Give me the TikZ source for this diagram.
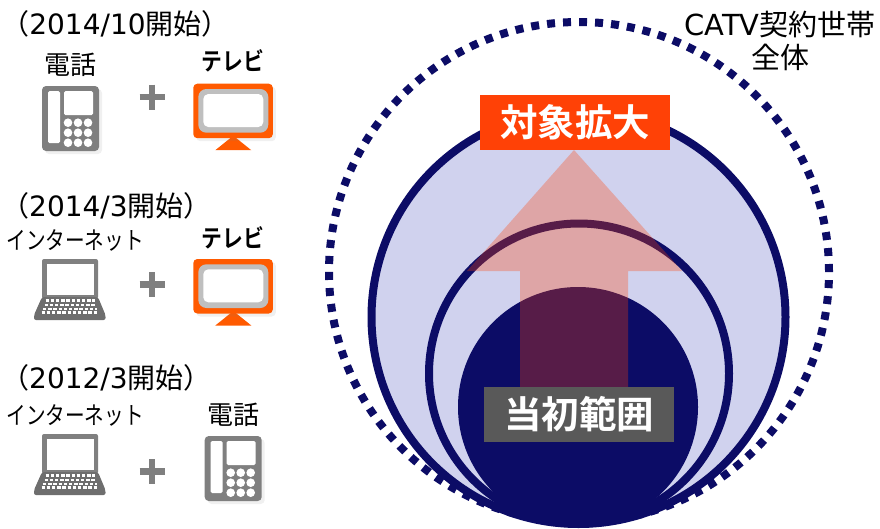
\documentclass[tikz,border=0pt]{standalone}
\usepackage{fontspec}
\usepackage{xcolor}
\usetikzlibrary{shadows,calc}
\setmainfont{DejaVu Sans}
\newfontfamily\cjk{Noto Sans CJK JP}
\newfontfamily\cjkbold{Noto Sans CJK JP Bold}
\newfontfamily\cjknarrow[FakeStretch=0.8]{Noto Sans CJK JP}
\newfontfamily\cjkboldnarrow[FakeStretch=0.85]{Noto Sans CJK JP Bold}
\definecolor{navy}{HTML}{0C0C66}
\definecolor{lavender}{HTML}{D0D2EE}
\definecolor{redorange}{HTML}{FF4106}
\definecolor{tvorange}{HTML}{FF5A00}
\definecolor{icongray}{HTML}{7F7F7F}
\definecolor{boxgray}{HTML}{595959}
\tikzset{
    period/.style={font=\fontsize{28}{30}\selectfont},
    scopelabel/.style={font=\fontsize{29}{33}\selectfont,align=center},
    device/.style={font=\fontsize{24.5}{26}\cjknarrow},
    phonelabel/.style={font=\fontsize{26}{28}\cjk},
    tvlabel/.style={font=\fontsize{24.5}{26}\cjkboldnarrow},
    banner/.style={text=white,font=\fontsize{37.5}{40}\cjkbold,inner sep=0pt,minimum width=190pt,minimum height=55pt},
    softshadow/.style={drop shadow={shadow xshift=3pt,shadow yshift=-3pt,opacity=0.12}},
    % icons, origin at their top left corner
    phoneicon/.pic={
        \fill[icongray,rounded corners=4pt,softshadow] (0,0) rectangle (57,65);
        \fill[white,rounded corners=1.5pt] (6,5) rectangle (18,57);
        \fill[white,rounded corners=1.5pt] (22,5) rectangle (51,29);
        \foreach \kx in {26,36,46}
            \foreach \ky in {36.7,46.7,56.7}
                \fill[white] (\kx,\ky) circle (4.3pt);
    },
    tvicon/.pic={
        \fill[tvorange] (40,52) -- (58,66.5) -- (22,66.5) -- cycle;
        \fill[tvorange,rounded corners=4pt,softshadow] (0,0) rectangle (79.5,54.5);
        \fill[black!25,rounded corners=8pt] (5,5.3) rectangle (75,49);
        \fill[white,rounded corners=5pt] (10,10.3) rectangle (70,43.3);
    },
    laptopicon/.pic={
        \fill[black!50,rounded corners=2pt] (8.5,0) rectangle (64.5,40);
        \fill[white] (13.5,4.5) rectangle (60.5,36);
        \fill[black!57,rounded corners=2pt] (8.5,38) -- (64.5,38) -- (72,56) -- (72,61) -- (0.5,61) -- (0.5,56) -- cycle;
        % keys
        \foreach \krow/\kinset in {41.5/9,45.8/8,49.8/6.5,53.5/5}
            \draw[white,line width=2.6pt,dash pattern=on 3.4pt off 1.8pt]
                (\kinset,\krow) ++(3,0) -- ($(73-\kinset,\krow)+(-3,0)$);
    },
    plusicon/.pic={
        \draw[icongray,line width=6.5pt] (-12.5,0) -- (12.5,0);
        \draw[icongray,line width=6.5pt] (0,-12.5) -- (0,12.5);
    }
}
\begin{document}
\begin{tikzpicture}[x=1pt,y=-1pt]
    \useasboundingbox (0,0) rectangle (880,528);

    % Scope circles
    \draw[navy,line width=8pt,dash pattern=on 8pt off 8.03pt] (579,272) circle (250pt);
    \draw[navy,fill=lavender,line width=8pt] (578.5,317) circle (207pt);
    \draw[navy,fill=lavender,line width=8pt] (579,373.5) circle (150pt);
    \fill[navy] (578,407) circle (120pt);

    % Growth arrow
    \fill[redorange,opacity=0.31] (574,150) -- (682,271) -- (628,271) -- (628,387) -- (520,387) -- (520,271) -- (467,271) -- cycle;

    % Banners
    \node[banner,fill=redorange] (growth) at (575,122.5) {対象拡大};
    \node[banner,fill=boxgray] (initial) at (579,414.5) {当初範囲};
    \node[scopelabel] (catv) at (780,41) {CATV{\cjk 契約世帯}\\{\cjk 全体}};

    % Row 1
    \node[period] (periodA) at (115.5,24) {{\cjk （}2014/10{\cjk 開始）}};
    \node[phonelabel] (phoneA) at (70,65) {電話};
    \node[tvlabel] (tvA) at (233,61) {テレビ};
    \pic at (42,86) {phoneicon};
    \pic at (152,97) {plusicon};
    \pic at (193.3,83.7) {tvicon};

    % Row 2
    \node[period] (periodB) at (106.5,206) {{\cjk （}2014/3{\cjk 開始）}};
    \node[device] (netB) at (75,240) {インターネット};
    \node[tvlabel] (tvB) at (233,238) {テレビ};
    \pic at (33.5,259) {laptopicon};
    \pic at (152,284.5) {plusicon};
    \pic at (193.3,259) {tvicon};

    % Row 3
    \node[period] (periodC) at (106.5,378) {{\cjk （}2012/3{\cjk 開始）}};
    \node[device] (netC) at (75,415) {インターネット};
    \node[phonelabel] (phoneC) at (233,415) {電話};
    \pic at (33.5,434) {laptopicon};
    \pic at (152,471.5) {plusicon};
    \pic at (204.7,436) {phoneicon};
\end{tikzpicture}
\end{document}
